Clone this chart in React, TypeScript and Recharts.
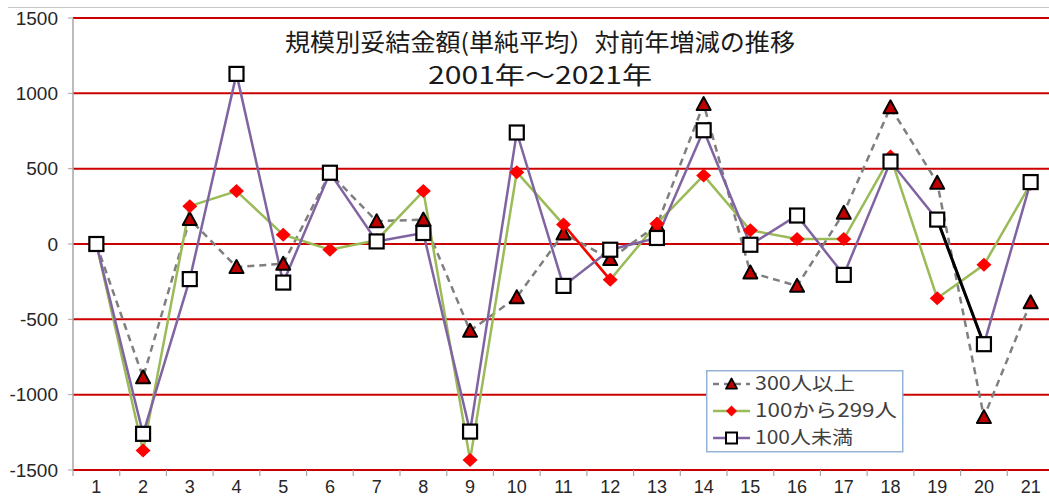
import React from 'react';
import { LineChart, Line, XAxis, YAxis, CartesianGrid } from 'recharts';

const years = [1, 2, 3, 4, 5, 6, 7, 8, 9, 10, 11, 12, 13, 14, 15, 16, 17, 18, 19, 20, 21];
const over300 = [0, -885, 165, -153, -131, 470, 151, 162, -576, -353, 70, -100, 125, 929, -189, -278, 207, 907, 407, -1149, -387];
const from100to299 = [0, -1371, 251, 351, 62, -38, 25, 351, -1433, 477, 129, -238, 135, 455, 91, 33, 33, 580, -360, -138, 400];
const under100 = [0, -1260, -233, 1129, -256, 473, 17, 73, -1245, 740, -278, -38, 40, 755, -5, 189, -205, 547, 162, -665, 411];
const seriesNames = ['300人以上', '100から299人', '100人未満'];
const yTicks = [-1500, -1000, -500, 0, 500, 1000, 1500];
const xTicks = [0.5, ...years.flatMap((y) => [y, y + 0.5])];
const redSegment = [11, 12];
const blackSegment = [19, 20];
const titleLine1 = '規模別妥結金額(単純平均）対前年増減の推移';
const titleLine2 = '2001年～2021年';

const data = years.map((x, i) => ({
  x,
  a: over300[i],
  b: from100to299[i],
  c: under100[i],
  r: redSegment.includes(x) ? from100to299[i] : null,
  k: blackSegment.includes(x) ? under100[i] : null,
}));

const CJK = '"Noto Sans CJK JP", "Noto Sans", sans-serif';
const AX = '"Liberation Sans", Arial, sans-serif';

const triPath = (cx: number, cy: number, s: number) =>
  `M${cx},${cy - s} L${cx + s},${cy + s * 0.85} L${cx - s},${cy + s * 0.85} Z`;
const diaPath = (cx: number, cy: number, w: number, h: number) =>
  `M${cx},${cy - h} L${cx + w},${cy} L${cx},${cy + h} L${cx - w},${cy} Z`;

const renderTriangle = (p: any) => {
  if (p.cx == null || p.cy == null) return <g key={p.index} />;
  return <path key={p.index} d={triPath(p.cx, p.cy, 7)} fill="#c00000" stroke="#000" strokeWidth={2} strokeLinejoin="round" />;
};
const renderDiamond = (p: any) => {
  if (p.cx == null || p.cy == null) return <g key={p.index} />;
  return <path key={p.index} d={diaPath(p.cx, p.cy, 7.5, 7)} fill="#ff0000" stroke="none" />;
};
const renderSquare = (p: any) => {
  if (p.cx == null || p.cy == null) return <g key={p.index} />;
  return <rect key={p.index} x={p.cx - 7} y={p.cy - 7} width={14} height={14} fill="#fff" stroke="#000" strokeWidth={2.2} />;
};

const XTick = (props: any) => {
  const { x, y, payload } = props;
  const v = payload.value;
  if (Number.isInteger(v)) {
    return (
      <text x={x} y={y + 11.5} dy="0.35em" textAnchor="middle" fontSize={18} fontFamily={AX} fill="#262626">
        {v}
      </text>
    );
  }
  return <line x1={x} x2={x} y1={y - 5} y2={y + 1} stroke="#a6a6a6" strokeWidth={1.2} />;
};

export default function App() {
  return (
    <div style={{ position: 'absolute', left: 0, top: 0, width: 1049, height: 497, overflow: 'hidden', background: '#fff' }}>
      <div style={{ position: 'absolute', left: 8, top: 7, width: 1041, height: 1, background: '#c8c8c8' }} />
      <div style={{ position: 'absolute', left: 0, top: 0 }}>
        <LineChart width={1055} height={497} data={data} margin={{ top: 18, right: 1, bottom: 0, left: 0 }}>
          <CartesianGrid vertical={false} stroke="#cc0000" strokeWidth={2} />
          <XAxis
            dataKey="x"
            type="number"
            domain={[0.5, 21.5]}
            ticks={xTicks}
            interval={0}
            tickLine={false}
            axisLine={false}
            tickSize={5}
            tickMargin={0}
            height={27}
            tick={<XTick />}
          />
          <YAxis
            type="number"
            domain={[-1500, 1500]}
            ticks={yTicks}
            interval={0}
            width={73}
            tickSize={5}
            tickMargin={10}
            axisLine={{ stroke: '#a6a6a6', strokeWidth: 1.5 }}
            tickLine={{ stroke: '#a6a6a6' }}
            tick={{ fontSize: 19, fontFamily: AX, fill: '#262626' }}
          />
          <Line dataKey="a" name={seriesNames[0]} stroke="#7f7f7f" strokeWidth={2.5} strokeDasharray="7 5" dot={renderTriangle} isAnimationActive={false} />
          <Line dataKey="b" name={seriesNames[1]} stroke="#9bbb59" strokeWidth={2.5} dot={renderDiamond} isAnimationActive={false} />
          <Line dataKey="r" stroke="#ff0000" strokeWidth={2.5} dot={false} isAnimationActive={false} legendType="none" />
          <Line dataKey="c" name={seriesNames[2]} stroke="#8064a2" strokeWidth={2.5} dot={false} isAnimationActive={false} />
          <Line dataKey="k" stroke="#000000" strokeWidth={3} dot={false} isAnimationActive={false} legendType="none" />
          <Line dataKey="c" stroke="none" dot={renderSquare} isAnimationActive={false} legendType="none" />
        </LineChart>
      </div>
      <svg style={{ position: 'absolute', left: 0, top: 0 }} width={1049} height={100}>
        <text x={540} y={42.5} dy="0.35em" textAnchor="middle" fontSize={24} fontFamily={CJK} fill="#1a1a1a" textLength={510} lengthAdjust="spacingAndGlyphs">
          {titleLine1}
        </text>
        <text x={540} y={75.5} dy="0.35em" textAnchor="middle" fontSize={24} fontFamily={CJK} fill="#1a1a1a" textLength={224} lengthAdjust="spacingAndGlyphs">
          {titleLine2}
        </text>
      </svg>
      <svg style={{ position: 'absolute', left: 706, top: 370 }} width={198} height={84}>
        <rect x={0.75} y={0.75} width={196} height={81} fill="#fff" stroke="#95b3d7" strokeWidth={1.5} />
        <line x1={7} x2={44} y1={14} y2={14} stroke="#7f7f7f" strokeWidth={2.5} strokeDasharray="6 5" />
        <path d={triPath(25.5, 14, 5.5)} fill="#c00000" stroke="#000" strokeWidth={1.8} strokeLinejoin="round" />
        <text x={49} y={14} dy="0.35em" fontSize={18.5} fontFamily={CJK} fill="#404040" textLength={100} lengthAdjust="spacingAndGlyphs">{seriesNames[0]}</text>
        <line x1={7} x2={44} y1={41} y2={41} stroke="#9bbb59" strokeWidth={2.5} />
        <path d={diaPath(25.5, 41, 5.5, 5.5)} fill="#ff0000" />
        <text x={49} y={41} dy="0.35em" fontSize={18.5} fontFamily={CJK} fill="#404040" textLength={142} lengthAdjust="spacingAndGlyphs">{seriesNames[1]}</text>
        <line x1={7} x2={44} y1={68} y2={68} stroke="#8064a2" strokeWidth={2.5} />
        <rect x={20} y={62.5} width={11} height={11} fill="#fff" stroke="#000" strokeWidth={2} />
        <text x={49} y={68} dy="0.35em" fontSize={18.5} fontFamily={CJK} fill="#404040" textLength={98} lengthAdjust="spacingAndGlyphs">{seriesNames[2]}</text>
      </svg>
    </div>
  );
}
